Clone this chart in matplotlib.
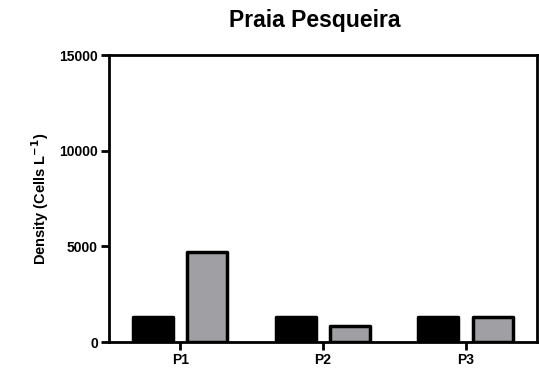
import matplotlib
matplotlib.use("Agg")
import matplotlib.pyplot as plt
import numpy as np

plt.rcParams['font.family'] = ['Liberation Sans', 'DejaVu Sans']

categories = ["P1", "P2", "P3"]
series_black = [1300, 1300, 1330]
series_gray = [4700, 850, 1300]
yticks = [0, 5000, 10000, 15000]

fig = plt.figure(figsize=(5.39, 3.72), dpi=100)
ax = fig.add_axes([0.202, 0.0806, 0.794, 0.7714])

x = np.arange(len(categories))
w = 0.28
off = 0.19
ax.bar(x - off, series_black, width=w, color="black", edgecolor="black",
       linewidth=2.5, joinstyle="round", zorder=3)
ax.bar(x + off, series_gray, width=w, color="#a0a0a4", edgecolor="black",
       linewidth=2.5, joinstyle="round", zorder=3)

ax.set_xlim(-0.5, 2.5)
ax.set_ylim(0, 15000)
ax.set_xticks(x)
ax.set_xticklabels(categories, fontsize=10, fontweight="bold")
ax.set_yticks(yticks)
ax.set_yticklabels([str(v) for v in yticks], fontsize=10, fontweight="bold")
for s in ax.spines.values():
    s.set_linewidth(2)
ax.tick_params(axis="both", direction="out", length=6, width=2, pad=2)
ax.set_ylabel("Density (Cells L$^{\\mathbf{-1}}$)", fontsize=10.5, fontweight="bold", labelpad=6)
fig.text(315 / 539, 1 - 27 / 372, "Praia Pesqueira", fontsize=16.5, fontweight="bold",
         ha="center", va="baseline")

fig.savefig("out.png", dpi=100)
